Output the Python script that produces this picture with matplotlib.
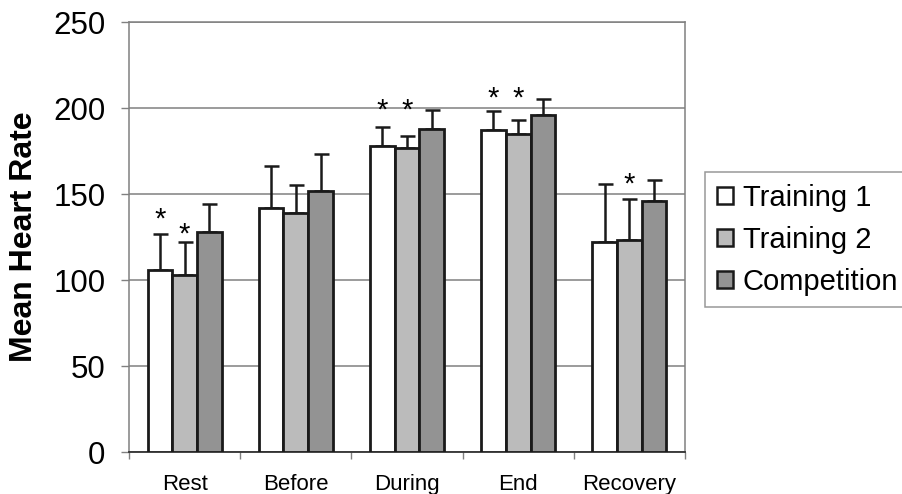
import numpy as np
import matplotlib
matplotlib.use('Agg')
import matplotlib.pyplot as plt
import matplotlib.patches as mpatches

# data
phases = ['Rest', 'Before', 'During', 'End', 'Recovery']
series_names = ['Training 1', 'Training 2', 'Competition']
training1 = [106, 142, 178, 187, 122]
training2 = [103, 139, 177, 185, 123]
competition = [128, 152, 188, 196, 146]
training1_err = [21, 24, 11, 11, 34]
training2_err = [19, 16, 7, 8, 24]
competition_err = [16, 21, 11, 9, 12]

# significance stars: (phase index, series index, height of star)
star_phase = [0, 0, 2, 2, 3, 3, 4]
star_series = [0, 1, 0, 1, 0, 1, 1]
star_height = [140, 131, 203, 203, 210, 210, 160]

colors = ['#ffffff', '#bbbbbb', '#939393']

plt.rcParams['font.family'] = ['Liberation Sans', 'DejaVu Sans']

fig = plt.figure(figsize=(9.02, 4.94), dpi=100)
ax = fig.add_axes([129 / 902, 1 - 452 / 494, (685 - 129) / 902, (452 - 22) / 494])

x = np.arange(len(phases))
bar_w = 1 / 4.5
values = [training1, training2, competition]
errors = [training1_err, training2_err, competition_err]

for i in range(3):
    pos = x + (i - 1) * bar_w
    ax.bar(pos, values[i], width=bar_w, color=colors[i], edgecolor='#1a1a1a',
           linewidth=2.0, zorder=3)
    ax.errorbar(pos, values[i], yerr=[np.zeros(len(phases)), errors[i]], fmt='none',
                ecolor='#1a1a1a', elinewidth=1.8, capsize=5.4, capthick=1.8, zorder=2)

for p, s, h in zip(star_phase, star_series, star_height):
    ax.annotate('*', (p + (s - 1) * bar_w, h), xytext=(0, -11.5), textcoords='offset points',
                ha='center', va='baseline', fontsize=21, zorder=4)

ax.set_xlim(-0.5, len(phases) - 0.5)
ax.set_ylim(0, 250)
ax.set_yticks(np.arange(0, 251, 50))
ax.tick_params(axis='y', labelsize=22.5, length=6, width=1, color='#808080', pad=11)
ax.yaxis.grid(True, color='#808080', linewidth=1.1, zorder=0)
ax.set_axisbelow(True)

# category boundaries as major ticks, names as minor ticks
ax.set_xticks(np.arange(-0.5, len(phases), 1))
ax.set_xticklabels([])
ax.set_xticks(x, minor=True)
ax.set_xticklabels(phases, minor=True)
ax.tick_params(axis='x', which='major', length=5, width=1, color='#808080')
ax.tick_params(axis='x', which='minor', length=0, labelsize=16, pad=16)

for side in ['left', 'top', 'right']:
    ax.spines[side].set_color('#808080')
    ax.spines[side].set_linewidth(1.1)
ax.spines['bottom'].set_color('#333333')
ax.spines['bottom'].set_linewidth(1.3)

ax.set_ylabel('Mean Heart Rate', fontsize=23, fontweight='bold', labelpad=10)

handles = [mpatches.Patch(facecolor=c, edgecolor='#1a1a1a', linewidth=1.8, label=n)
           for c, n in zip(colors, series_names)]
leg = fig.legend(handles=handles, loc='upper left', bbox_to_anchor=(705 / 902, 1 - 172 / 494),
                 fontsize=21, frameon=True, fancybox=False, edgecolor='#808080',
                 handlelength=0.55, handleheight=0.55, handletextpad=0.35,
                 labelspacing=0.48, borderpad=0.4, borderaxespad=0)
leg.get_frame().set_linewidth(1.1)

plt.savefig('out.png', dpi=100)
